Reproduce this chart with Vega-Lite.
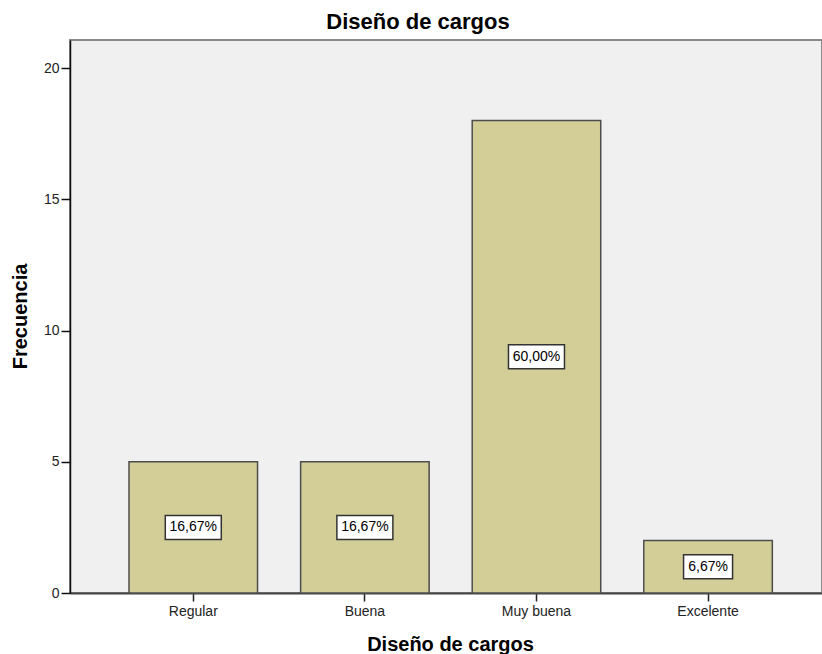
{
  "$schema": "https://vega.github.io/schema/vega-lite/v6.json",
  "width": 752,
  "height": 553,
  "autosize": {"type": "none"},
  "padding": {"left": 70, "top": 40, "right": 0, "bottom": 61},
  "background": "white",
  "title": {
    "text": "Diseño de cargos",
    "fontSize": 22,
    "fontWeight": "bold",
    "font": "Liberation Sans",
    "color": "black",
    "anchor": "middle",
    "frame": "group",
    "dx": -28,
    "dy": 21,
    "offset": 5,
    "baseline": "bottom"
  },
  "config": {
    "view": {"fill": "#F0F0F0", "stroke": "#8a8a8a", "strokeWidth": 2},
    "font": "Liberation Sans"
  },
  "data": {
    "values": [
      {"categoria": "Regular", "frecuencia": 5, "porcentaje": "16,67%"},
      {"categoria": "Buena", "frecuencia": 5, "porcentaje": "16,67%"},
      {"categoria": "Muy buena", "frecuencia": 18, "porcentaje": "60,00%"},
      {"categoria": "Excelente", "frecuencia": 2, "porcentaje": "6,67%"}
    ]
  },
  "transform": [{"calculate": "datum.frecuencia / 2", "as": "mitad"}],
  "encoding": {
    "x": {
      "field": "categoria",
      "type": "nominal",
      "sort": null,
      "scale": {"paddingInner": 0.251, "paddingOuter": 0.3167, "align": 0.543},
      "axis": {
        "title": "Diseño de cargos",
        "titleFont": "Liberation Sans",
        "titleFontSize": 20,
        "titleFontWeight": "bold",
        "titleColor": "black",
        "titleBaseline": "alphabetic",
        "titleY": 57,
        "titleX": 380,
        "labelAngle": 0,
        "labelFontSize": 14,
        "labelColor": "#222222",
        "labelPadding": 3,
        "tickSize": 8,
        "tickColor": "#222222",
        "tickWidth": 1.5,
        "domainColor": "#444444",
        "domainWidth": 2
      }
    }
  },
  "layer": [
    {
      "mark": {"type": "bar", "fill": "#D3CE97", "stroke": "#4d4d4d", "strokeWidth": 1.5},
      "encoding": {
        "y": {
          "field": "frecuencia",
          "type": "quantitative",
          "scale": {"domain": [0, 21.07], "nice": false},
          "axis": {
            "title": "Frecuencia",
            "titleFont": "Liberation Sans",
            "titleFontSize": 20,
            "titleFontWeight": "bold",
            "titleColor": "black",
            "titleAngle": -90,
            "titleBaseline": "alphabetic",
            "titleAlign": "center",
            "titleX": -44,
            "titleY": 276,
            "values": [0, 5, 10, 15, 20],
            "grid": false,
            "labelFontSize": 14,
            "labelColor": "#222222",
            "labelPadding": 2,
            "tickSize": 9,
            "tickColor": "#111111",
            "tickWidth": 1.5,
            "domainColor": "#111111",
            "domainWidth": 1.5
          }
        }
      }
    },
    {
      "mark": {
        "type": "rect",
        "fill": "white",
        "stroke": "#333333",
        "strokeWidth": 1.5,
        "width": {"expr": "length(datum.porcentaje) > 5 ? 56 : 49"},
        "yOffset": -12,
        "y2Offset": 12
      },
      "encoding": {
        "y": {"field": "mitad", "type": "quantitative"},
        "y2": {"field": "mitad"}
      }
    },
    {
      "mark": {"type": "text", "fontSize": 14, "color": "black", "baseline": "middle", "align": "center"},
      "encoding": {
        "y": {"field": "mitad", "type": "quantitative"},
        "text": {"field": "porcentaje"}
      }
    }
  ]
}
